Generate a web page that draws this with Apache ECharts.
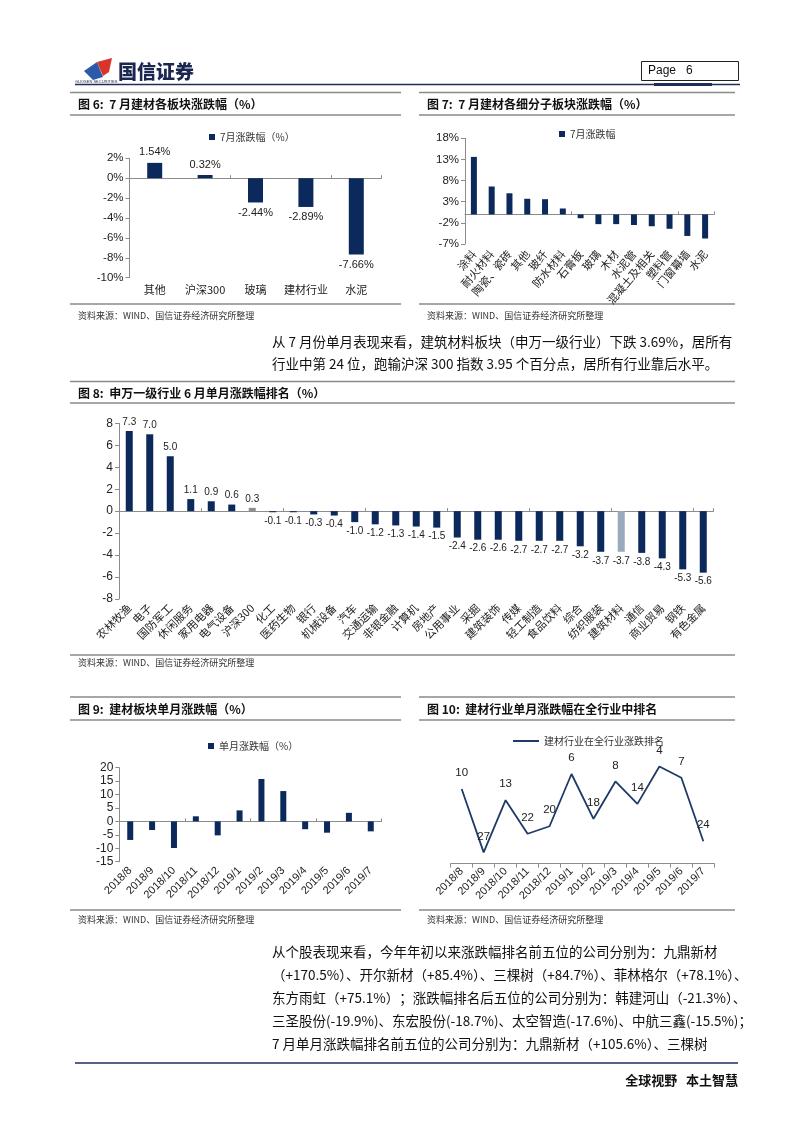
<!DOCTYPE html>
<html><head><meta charset="utf-8">
<script src="https://cdn.jsdelivr.net/npm/echarts@6/dist/echarts.min.js"></script>
<style>html,body{margin:0;padding:0;background:#fff}#c{width:802px;height:1133px}</style>
</head><body><div id="c"></div>
<script>
// ---- data ----
const c6Cats = ['其他','沪深300','玻璃','建材行业','水泥'];
const c6Vals = [1.54,0.32,-2.44,-2.89,-7.66];
const c7Cats = ['涂料','耐火材料','陶瓷、瓷砖','其他','玻纤','防水材料','石膏板','玻璃','木材','水泥管','混凝土及相关','塑料管','门窗幕墙','水泥'];
const c7Vals = [13.6,6.6,5.0,3.7,3.6,1.4,-0.9,-2.3,-2.3,-2.5,-2.8,-3.4,-5.1,-5.7];
const c8Cats = ['农林牧渔','电子','国防军工','休闲服务','家用电器','电气设备','沪深300','化工','医药生物','银行','机械设备','汽车','交通运输','非银金融','计算机','房地产','公用事业','采掘','建筑装饰','传媒','轻工制造','食品饮料','综合','纺织服装','建筑材料','通信','商业贸易','钢铁','有色金属'];
const c8Vals = [7.3,7.0,5.0,1.1,0.9,0.6,0.3,-0.1,-0.1,-0.3,-0.4,-1.0,-1.2,-1.3,-1.4,-1.5,-2.4,-2.6,-2.6,-2.7,-2.7,-2.7,-3.2,-3.7,-3.7,-3.8,-4.3,-5.3,-5.6];
const months = ['2018/8','2018/9','2018/10','2018/11','2018/12','2019/1','2019/2','2019/3','2019/4','2019/5','2019/6','2019/7'];
const c9Vals = [-6.9,-3.2,-9.9,1.9,-5.2,4.1,15.8,11.3,-2.9,-4.2,3.2,-3.7];
const c10Ranks = [10,27,13,22,20,6,18,8,14,4,7,24];

const NAVY = '#0b2a5b';
const CJK = '"Noto Sans CJK SC", sans-serif';
const LAT = '"Liberation Sans", Arial, sans-serif';
const AX = '#8c8c8c';

const chart = echarts.init(document.getElementById('c'), null, {renderer:'canvas'});

function labelAxis(gi, cats, lbl) {
  return {
    type:'category', gridIndex:gi, data:cats,
    axisLine:{show:false, onZero:false}, axisTick:{show:false},
    axisLabel:Object.assign({color:'#222', fontSize:10, fontFamily:CJK, margin:6, interval:0}, lbl||{}),
    splitLine:{show:false}
  };
}
function zeroAxis(gi, cats) {
  return {
    type:'category', gridIndex:gi, data:cats,
    axisLine:{show:true, onZero:true, lineStyle:{color:AX, width:1}},
    axisTick:{show:true, length:3, lineStyle:{color:AX}},
    axisLabel:{show:false}, splitLine:{show:false}
  };
}
function valAxis(gi, min, max, interval, fmt, fs) {
  return {
    type:'value', gridIndex:gi, min:min, max:max, interval:interval,
    axisLine:{show:true, lineStyle:{color:AX}},
    axisTick:{show:true, length:4, lineStyle:{color:AX}},
    axisLabel:{color:'#222', fontSize:fs||11.5, fontFamily:LAT, margin:6, formatter:fmt||'{value}'},
    splitLine:{show:false}
  };
}
function posData(vals) {
  return vals.map(v => ({value:v, label:{position: v < 0 ? 'bottom' : 'top'}}));
}

const txt = (x, y, text, size, opts) => ({
  type:'text', silent:true,
  style:{x:x, y:y, text:text, font:(opts&&opts.weight||'normal')+' '+size+'px '+(opts&&opts.family||CJK), fill:(opts&&opts.fill)||'#1a1a1a', textAlign:(opts&&opts.align)||'left', textVerticalAlign:'middle'}
});
const hline = (x1, x2, y, color, w) => ({type:'line', silent:true, shape:{x1:x1,y1:y,x2:x2,y2:y}, style:{stroke:color, lineWidth:w}});

const GRAY = '#8a8a8a';
const SRC = '资料来源：WIND、国信证券经济研究所整理';
const graphics = [
  // header logo
  {type:'polygon', silent:true, shape:{points:[[84,71],[97,62],[103,77],[93,80]]}, style:{fill:'#2a5aa8'}},
  {type:'polygon', silent:true, shape:{points:[[97,62],[112,58],[109,72],[103,76]]}, style:{fill:'#d9342b'}},
  txt(118, 72, '国信证券', 19, {weight:'900', fill:'#1b2750'}),
  txt(75, 82, 'GUOSEN SECURITIES', 4, {family:LAT, fill:'#1b2750'}),
  hline(75, 740, 84.5, '#1c2d5c', 1.6),
  {type:'rect', silent:true, shape:{x:641.5, y:61.5, width:97, height:19}, style:{fill:'none', stroke:'#222', lineWidth:1}},
  {type:'rect', silent:true, shape:{x:654, y:83, width:58, height:3}, style:{fill:'#1c2d5c'}},
  txt(648, 71, 'Page   6', 12, {family:LAT, fill:'#111'}),
  // fig 6 block
  hline(70, 401, 92.5, GRAY, 1.5),
  txt(78, 104, '图 6:  7 月建材各板块涨跌幅（%）', 12, {weight:'bold', fill:'#111'}),
  hline(70, 401, 115, GRAY, 1.5),
  hline(70, 401, 304, GRAY, 1.5),
  txt(78, 316, SRC, 9, {fill:'#333'}),
  // fig 7 block
  hline(419, 735, 92.5, GRAY, 1.5),
  txt(427, 104, '图 7:  7 月建材各细分子板块涨跌幅（%）', 12, {weight:'bold', fill:'#111'}),
  hline(419, 735, 115, GRAY, 1.5),
  hline(419, 735, 304, GRAY, 1.5),
  txt(427, 316, SRC, 9, {fill:'#333'}),
  // paragraph 1
  txt(272, 342, '从 7 月份单月表现来看，建筑材料板块（申万一级行业）下跌 3.69%，居所有', 13.5, {fill:'#111'}),
  txt(272, 364, '行业中第 24 位，跑输沪深 300 指数 3.95 个百分点，居所有行业靠后水平。', 13.5, {fill:'#111'}),
  // fig 8 block
  hline(70, 735, 381.5, GRAY, 1.5),
  txt(78, 393, '图 8:  申万一级行业 6 月单月涨跌幅排名（%）', 12, {weight:'bold', fill:'#111'}),
  hline(70, 735, 403, GRAY, 1.5),
  hline(70, 735, 655, GRAY, 1.5),
  txt(78, 663, SRC, 9, {fill:'#333'}),
  // fig 9 block
  hline(70, 401, 697, GRAY, 1.5),
  txt(78, 709, '图 9:  建材板块单月涨跌幅（%）', 12, {weight:'bold', fill:'#111'}),
  hline(70, 401, 720, GRAY, 1.5),
  hline(70, 401, 910, GRAY, 1.5),
  txt(78, 920, SRC, 9, {fill:'#333'}),
  // fig 10 block
  hline(419, 735, 697, GRAY, 1.5),
  txt(427, 709, '图 10:  建材行业单月涨跌幅在全行业中排名', 12, {weight:'bold', fill:'#111'}),
  hline(419, 735, 720, GRAY, 1.5),
  hline(419, 735, 910, GRAY, 1.5),
  txt(427, 920, SRC, 9, {fill:'#333'}),
  // paragraph 2
  txt(272, 952, '从个股表现来看，今年年初以来涨跌幅排名前五位的公司分别为：九鼎新材', 13.5, {fill:'#111'}),
  txt(272, 975, '（+170.5%）、开尔新材（+85.4%）、三棵树（+84.7%）、菲林格尔（+78.1%）、', 13.5, {fill:'#111'}),
  txt(272, 998, '东方雨虹（+75.1%）；涨跌幅排名后五位的公司分别为：韩建河山（-21.3%）、', 13.5, {fill:'#111'}),
  txt(272, 1021, '三圣股份(-19.9%)、东宏股份(-18.7%)、太空智造(-17.6%)、中航三鑫(-15.5%)；', 13.5, {fill:'#111'}),
  txt(272, 1044, '7 月单月涨跌幅排名前五位的公司分别为：九鼎新材（+105.6%）、三棵树', 13.5, {fill:'#111'}),
  // footer
  hline(75, 738, 1063, '#1c2d5c', 1.6),
  txt(738, 1080, '全球视野   本土智慧', 13, {weight:'bold', fill:'#111', align:'right'})
];

const option = {
  backgroundColor:'#fff',
  animation:false,
  textStyle:{fontFamily:CJK},
  legend:[
    {data:['7月涨跌幅（%）'], left:204, top:127, icon:'rect', itemWidth:6, itemHeight:6, itemGap:4, textStyle:{fontSize:10, color:'#333'}},
    {data:['7月涨跌幅'], left:554, top:124, icon:'rect', itemWidth:6, itemHeight:6, textStyle:{fontSize:10, color:'#333'}},
    {data:['单月涨跌幅（%）'], left:203, top:736, icon:'rect', itemWidth:6, itemHeight:6, textStyle:{fontSize:10, color:'#333'}},
    {data:['建材行业在全行业涨跌排名'], left:508, top:731, icon:'rect', itemWidth:26, itemHeight:2, textStyle:{fontSize:10, color:'#333'}}
  ],
  grid:[
    {left:129.5, top:158.3, width:252, height:119.4},
    {left:465, top:138.3, width:249, height:105.7},
    {left:119, top:423.3, width:594.5, height:175.7},
    {left:119.3, top:767.7, width:262.4, height:94},
    {left:450.7, top:751.6, width:263.6, height:112}
  ],
  xAxis:[
    labelAxis(0, c6Cats, {fontSize:11, margin:7}),
    zeroAxis(0, c6Cats),
    labelAxis(1, c7Cats, {fontSize:11, margin:8, rotate:50}),
    zeroAxis(1, c7Cats),
    labelAxis(2, c8Cats, {fontSize:11, margin:7, rotate:45}),
    zeroAxis(2, c8Cats),
    labelAxis(3, months, {fontSize:11, fontFamily:LAT, margin:7, rotate:45}),
    zeroAxis(3, months),
    {type:'category', gridIndex:4, data:months, boundaryGap:true,
      axisLine:{show:true, onZero:false, lineStyle:{color:AX}}, axisTick:{show:true, length:4, lineStyle:{color:AX}},
      axisLabel:{color:'#222', fontSize:11, fontFamily:LAT, margin:6, interval:0, rotate:45}}
  ],
  yAxis:[
    valAxis(0, -10, 2, 2, '{value}%'),
    valAxis(1, -7, 18, 5, '{value}%'),
    valAxis(2, -8, 8, 2, null, 12),
    valAxis(3, -15, 20, 5, null, 12),
    {type:'value', gridIndex:4, min:0, max:30, inverse:true, show:false, splitLine:{show:false}}
  ],
  series:[
    {name:'7月涨跌幅（%）', type:'bar', xAxisIndex:0, yAxisIndex:0, barWidth:15, itemStyle:{color:NAVY},
     data:posData(c6Vals), label:{show:true, distance:5, fontSize:11, fontFamily:LAT, color:'#222', formatter:p=>p.value.toFixed(2)+'%'}},
    {name:'7月涨跌幅', type:'bar', xAxisIndex:2, yAxisIndex:1, barWidth:6, itemStyle:{color:NAVY}, data:c7Vals},
    {name:'涨跌幅', type:'bar', xAxisIndex:4, yAxisIndex:2, barWidth:7,
     itemStyle:{color:p => p.name==='沪深300' ? '#8e8e8e' : (p.name==='建筑材料' ? '#9aaabd' : NAVY)},
     data:posData(c8Vals), label:{show:true, distance:4, fontSize:10, fontFamily:LAT, color:'#222', formatter:p=>p.value.toFixed(1)}},
    {name:'单月涨跌幅（%）', type:'bar', xAxisIndex:6, yAxisIndex:3, barWidth:6, itemStyle:{color:NAVY}, data:c9Vals},
    {name:'建材行业在全行业涨跌排名', type:'line', xAxisIndex:8, yAxisIndex:4, symbol:'circle', symbolSize:0.1, showSymbol:true,
     itemStyle:{color:'#1f3a68'},
     lineStyle:{color:'#1f3a68', width:1.8}, data:c10Ranks,
     label:{show:true, position:'top', distance:10, fontSize:11.5, fontFamily:LAT, color:'#222'}}
  ],
  graphic:graphics
};
chart.setOption(option);
</script>
</body></html>
